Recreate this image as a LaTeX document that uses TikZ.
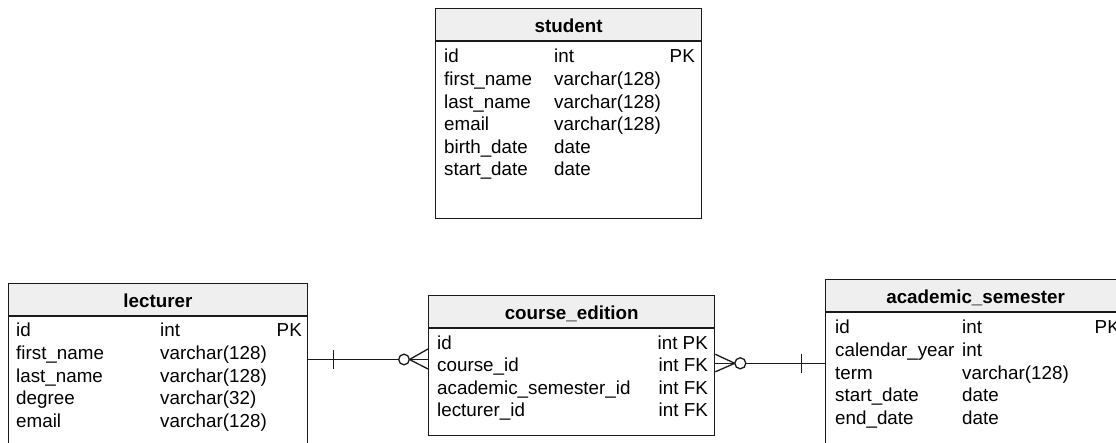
\documentclass[tikz,border=0pt]{standalone}
\usepackage{fontspec}
\setmainfont{Liberation Sans}
\definecolor{hdrgray}{HTML}{EFEFEF}
\definecolor{ln}{HTML}{1A1A1A}
\begin{document}
\begin{tikzpicture}[x=1pt,y=-1pt,
  font=\fontsize{18.8}{22.6}\selectfont,
  tbl/.style={draw=ln, line width=1.3pt, fill=white, inner sep=0pt, anchor=north west},
  thead/.style={draw=ln, line width=1.3pt, fill=hdrgray, inner sep=0pt, anchor=north west,
    minimum height=32.5pt, text height=15pt, text depth=0pt,
    font=\fontsize{18.8}{22.6}\selectfont\bfseries},
  col/.style={inner sep=0pt, anchor=base west},
  colr/.style={inner sep=0pt, anchor=base east},
  rel/.style={draw=ln, line width=1.3pt},
  relc/.style={draw=ln, line width=1.3pt, fill=white}]
\useasboundingbox (0,0) rectangle (1116,443);

% ---------- student ----------
\node[tbl, minimum width=266pt, minimum height=210pt] (student) at (435,8) {};
\node[thead, minimum width=266pt] (student-head) at (435,8) {student};
\node[col] (student-names) at (444,63) {\begin{tabular}[t]{@{}l@{}}id\\first\_name\\last\_name\\email\\birth\_date\\start\_date\end{tabular}};
\node[col] (student-types) at (554,63) {\begin{tabular}[t]{@{}l@{}}int\\varchar(128)\\varchar(128)\\varchar(128)\\date\\date\end{tabular}};
\node[colr] (student-keys) at (695,63) {PK};

% ---------- lecturer ----------
\node[tbl, minimum width=299.5pt, minimum height=190pt] (lecturer) at (7.5,283) {};
\node[thead, minimum width=299.5pt] (lecturer-head) at (7.5,283) {lecturer};
\node[col] (lecturer-names) at (16,337) {\begin{tabular}[t]{@{}l@{}}id\\first\_name\\last\_name\\degree\\email\end{tabular}};
\node[col] (lecturer-types) at (160,337) {\begin{tabular}[t]{@{}l@{}}int\\varchar(128)\\varchar(128)\\varchar(32)\\varchar(128)\end{tabular}};
\node[colr] (lecturer-keys) at (302,337) {PK};

% ---------- course_edition ----------
\node[tbl, minimum width=286pt, minimum height=140pt] (course) at (428,295) {};
\node[thead, minimum width=286pt] (course-head) at (428,295) {course\_edition};
\node[col] (course-names) at (437,349) {\begin{tabular}[t]{@{}l@{}}id\\course\_id\\academic\_semester\_id\\lecturer\_id\end{tabular}};
\node[colr] (course-types) at (708,349) {\begin{tabular}[t]{@{}r@{}}int PK\\int FK\\int FK\\int FK\end{tabular}};

% ---------- academic_semester ----------
\node[tbl, minimum width=300pt, minimum height=200pt] (semester) at (825,279) {};
\node[thead, minimum width=300pt] (semester-head) at (825,279) {academic\_semester};
\node[col] (semester-names) at (835,334) {\begin{tabular}[t]{@{}l@{}}id\\calendar\_year\\term\\start\_date\\end\_date\end{tabular}};
\node[col] (semester-types) at (962,334) {\begin{tabular}[t]{@{}l@{}}int\\int\\varchar(128)\\date\\date\end{tabular}};
\node[colr] (semester-keys) at (1120,334) {PK};

% ---------- lecturer -- course_edition (one to zero-or-many) ----------
\coordinate (la) at ([yshift=-42.7pt]lecturer-head.south east);
\coordinate (lb) at (la -| course.west);
\draw[rel] (la) -- ([xshift=-29.3pt]lb);
\draw[rel] ([xshift=25pt,yshift=9.5pt]la) -- ([xshift=25pt,yshift=-9.5pt]la);
\draw[rel] ([yshift=10.5pt]lb) -- ([xshift=-18.5pt]lb) -- ([yshift=-9.5pt]lb);
\draw[rel] (lb) -- ([xshift=-18.5pt]lb);
\draw[relc] ([xshift=-24pt]lb) circle[radius=5.3pt];

% ---------- course_edition -- academic_semester (zero-or-many to one) ----------
\coordinate (ra) at ([yshift=-34.5pt]course-head.south east);
\coordinate (rb) at (ra -| semester.west);
\draw[rel] ([xshift=30.5pt]ra) -- (rb);
\draw[rel] ([xshift=-23.5pt,yshift=9.5pt]rb) -- ([xshift=-23.5pt,yshift=-9.5pt]rb);
\draw[rel] ([yshift=9pt]ra) -- ([xshift=19.5pt]ra) -- ([yshift=-8.5pt]ra);
\draw[rel] (ra) -- ([xshift=19.5pt]ra);
\draw[relc] ([xshift=25pt]ra) circle[radius=5.5pt];
\end{tikzpicture}
\end{document}
